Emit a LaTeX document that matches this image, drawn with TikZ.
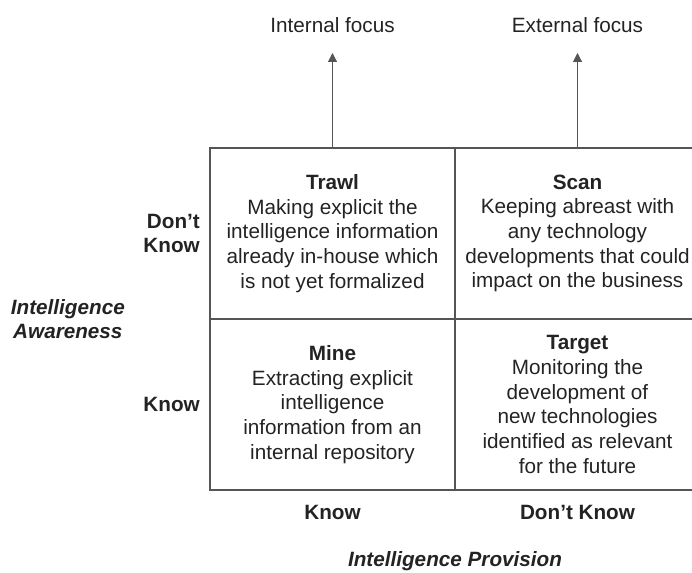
\documentclass[tikz,border=0pt]{standalone}
\usepackage{fontspec}
\setmainfont{Liberation Sans}
\usetikzlibrary{positioning,arrows.meta}
\definecolor{gridgray}{RGB}{85,85,85}
\definecolor{textgray}{RGB}{35,35,35}
\newcommand\quadfont{\fontsize{20.7}{24.7}\selectfont}
\tikzset{
  cell/.style={draw=gridgray, line width=1.3pt, minimum width=245pt, minimum height=171pt,
    inner sep=0pt, outer sep=0pt, align=center, text=textgray},
  axislabel/.style={inner sep=0pt, text=textgray, font=\quadfont\bfseries},
  axistitle/.style={inner sep=0pt, text=textgray, align=center, font=\quadfont\bfseries\itshape},
  focuslabel/.style={inner sep=0pt, text=textgray},
  focusarrow/.style={draw=gridgray, line width=1.1pt, -{Triangle[width=9pt,length=9pt]}, shorten >=20pt},
}
\begin{document}
\begin{tikzpicture}[x=1pt,y=1pt,font=\quadfont]
  \useasboundingbox (0,0) rectangle (692,-572);
  % the four quadrants
  \node[cell] (trawl) at (332.5,-233.5) {\textbf{Trawl}\\Making explicit the\\intelligence information\\already in-house which\\is not yet formalized};
  \node[cell, right=0pt of trawl] (scan) {\textbf{Scan}\\Keeping abreast with\\any technology\\developments that could\\impact on the business};
  \node[cell, below=0pt of trawl] (mine) {\textbf{Mine}\\Extracting explicit\\intelligence\\information from an\\internal repository};
  \node[cell, right=0pt of mine] (target) {\textbf{Target}\\Monitoring the\\development of\\new technologies\\identified as relevant\\for the future};
  % focus arrows
  \node[focuslabel, above=115pt of trawl] (internal) {Internal focus};
  \node[focuslabel, above=115pt of scan] (external) {External focus};
  \draw[focusarrow] (trawl.north) -- (internal.south);
  \draw[focusarrow] (scan.north) -- (external.south);
  % awareness axis
  \node[axislabel, left=10pt of trawl, align=right] (dontknowa) {Don’t\\Know};
  \node[axislabel, left=10pt of mine] (knowa) {Know};
  \node[axistitle, left=85pt of trawl.south west] (awareness) {Intelligence\\Awareness};
  % provision axis
  \node[axislabel, below=15pt of mine] (knowp) {Know};
  \node[axislabel, below=15pt of target] (dontknowp) {Don’t Know};
  \node[axistitle, below=61pt of mine.south east] (provision) {Intelligence Provision};
\end{tikzpicture}
\end{document}
